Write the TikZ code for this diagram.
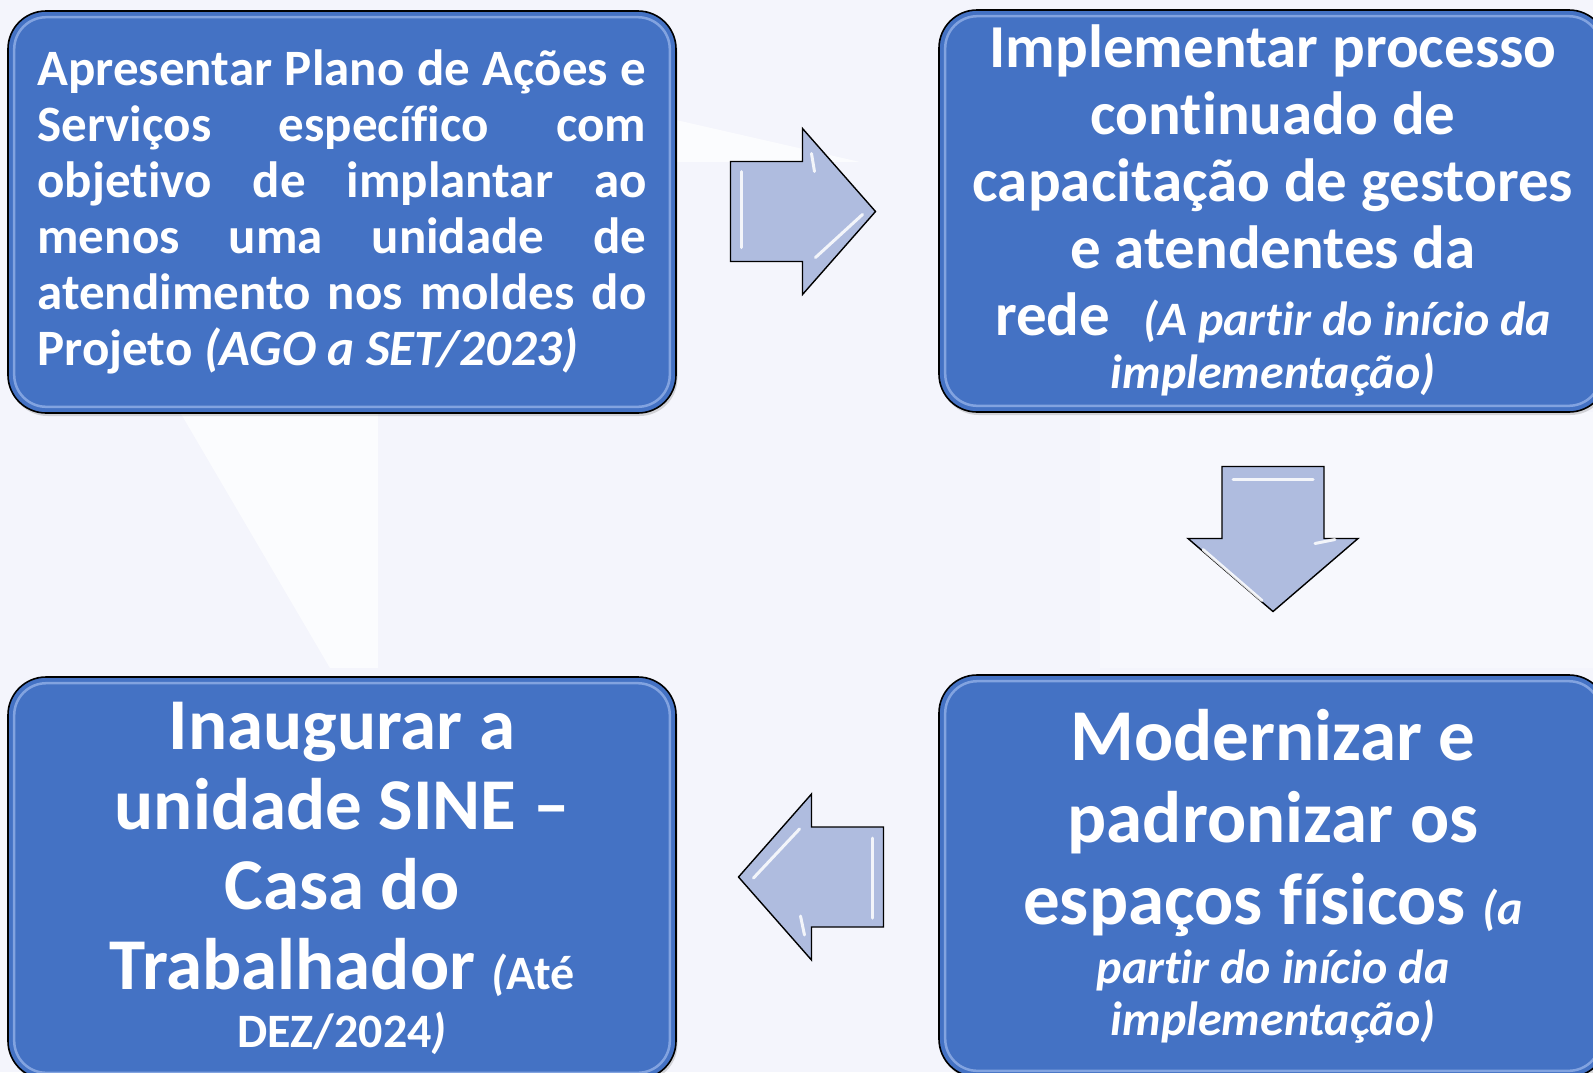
\documentclass[tikz,border=0pt]{standalone}
\usepackage{fontspec}
\setmainfont{Carlito}[Ligatures=NoCommon]
\usepackage{tikz}
\usetikzlibrary{calc,shadows}

\definecolor{boxblue}{HTML}{4472C4}
\definecolor{arrowfill}{HTML}{AFBCDF}
\definecolor{pagebg}{HTML}{F4F5FC}
\definecolor{bevel}{HTML}{9DB8EC}

\tikzset{
  etapa/.style={draw=black, line width=1.6pt, fill=boxblue, text=white,
    rounded corners=38pt, minimum width=668pt, minimum height=402pt, inner sep=0pt,
    drop shadow={opacity=0.3, shadow xshift=1.5pt, shadow yshift=-3pt}},
  texto/.style={text width=640pt, align=flush center},
  brilho/.style={draw=bevel, line width=2.5pt, opacity=0.7, rounded corners=32pt},
  seta/.style={draw=black, line width=1.4pt, fill=arrowfill, line join=miter},
  gleam/.style={draw=white, line width=3pt, line cap=round, opacity=0.85}
}

\begin{document}
\begin{tikzpicture}[x=1pt,y=-1pt]
\useasboundingbox (0,0) rectangle (1593,1072);
\clip (0,0) rectangle (1593,1072);
\fill[pagebg] (0,0) rectangle (1593,1072);
% fundo
\fill[white, opacity=0.7] (180,412) -- (378,412) -- (378,668) -- (330,668) -- cycle;
\fill[white, opacity=0.7] (676,120) -- (860,162) -- (676,162) -- cycle;
\fill[white, opacity=0.35] (1100,412) rectangle (1593,668);

% etapas
\node[etapa, text width=609pt, align=justify, font=\bfseries\fontsize{51}{56}\selectfont] (acoes) at (342,212)
  {Apresentar Plano de Ações e\linebreak Serviços específico com\linebreak objetivo de implantar ao\linebreak menos uma unidade de\linebreak atendimento nos moldes do\linebreak Projeto \textit{(AGO a SET/2023)}};
\node[etapa, texto, font=\bfseries\fontsize{61}{67}\selectfont] (capacit) at (1273,211)
  {Implementar processo\\ continuado de\\ capacitação de gestores\\ e atendentes da\\ rede\hspace{33pt}{\itshape\fontsize{48}{67}\selectfont (A partir do início da}\\[-14pt]
   {\itshape\fontsize{48}{67}\selectfont implementação)}};
\node[etapa, texto, font=\bfseries\fontsize{73}{82}\selectfont] (moderniz) at (1273,876)
  {Modernizar e\\ padronizar os\\ espaços físicos {\itshape\fontsize{48}{82}\selectfont (a}\\[-23pt]
   {\itshape\fontsize{48}{82}\selectfont partir do início da}\\[-30pt]
   {\itshape\fontsize{48}{82}\selectfont implementação)}};
\node[etapa, texto, font=\bfseries\fontsize{73}{80}\selectfont] (inaug) at (342,878)
  {Inaugurar a\\ unidade SINE –\\ Casa do\\ Trabalhador {\fontsize{48}{80}\selectfont\textit{(}Até}\\[-22pt]
   {\fontsize{48}{80}\selectfont DEZ/2024\textit{)}}};

\foreach \n in {acoes,capacit,moderniz,inaug}
  \draw[brilho] ([shift={(7,7)}]\n.north west) rectangle ([shift={(-7,-7)}]\n.south east);

% setas
\coordinate (s1) at ($(acoes.east)!0.5!(capacit.west)$);
\coordinate (s2) at ($(capacit.south)!0.5!(moderniz.north)$);
\coordinate (s3) at ($(moderniz.west)!0.5!(inaug.east)$);

\draw[seta] (s1) ++(-77,-50) -- ++(72,0) -- ++(0,-33) -- ++(73,83) -- ++(-73,83) -- ++(0,-33) -- ++(-72,0) -- cycle;
\draw[gleam] ([shift={(-66,-40)}]s1) -- ([shift={(-66,36)}]s1);
\draw[gleam] ([shift={(8,46)}]s1) -- ([shift={(55,3)}]s1);
\draw[gleam] ([shift={(4,-58)}]s1) -- ([shift={(7,-40)}]s1);

\draw[seta] (s2) ++(-51,-77) -- ++(102,0) -- ++(0,72) -- ++(34,0) -- ++(-85,73) -- ++(-85,-73) -- ++(34,0) -- cycle;
\draw[gleam] ([shift={(-40,-64)}]s2) -- ([shift={(40,-64)}]s2);
\draw[gleam] ([shift={(-70,6)}]s2) -- ([shift={(-11,57)}]s2);
\draw[gleam] ([shift={(42,0)}]s2) -- ([shift={(62,-4)}]s2);

\draw[seta] (s3) ++(76,-50) -- ++(-72,0) -- ++(0,-33) -- ++(-73,83) -- ++(73,83) -- ++(0,-33) -- ++(72,0) -- cycle;
\draw[gleam] ([shift={(65,-39)}]s3) -- ([shift={(65,41)}]s3);
\draw[gleam] ([shift={(-8,-48)}]s3) -- ([shift={(-54,1)}]s3);
\draw[gleam] ([shift={(-7,39)}]s3) -- ([shift={(-3,58)}]s3);
\end{tikzpicture}
\end{document}
